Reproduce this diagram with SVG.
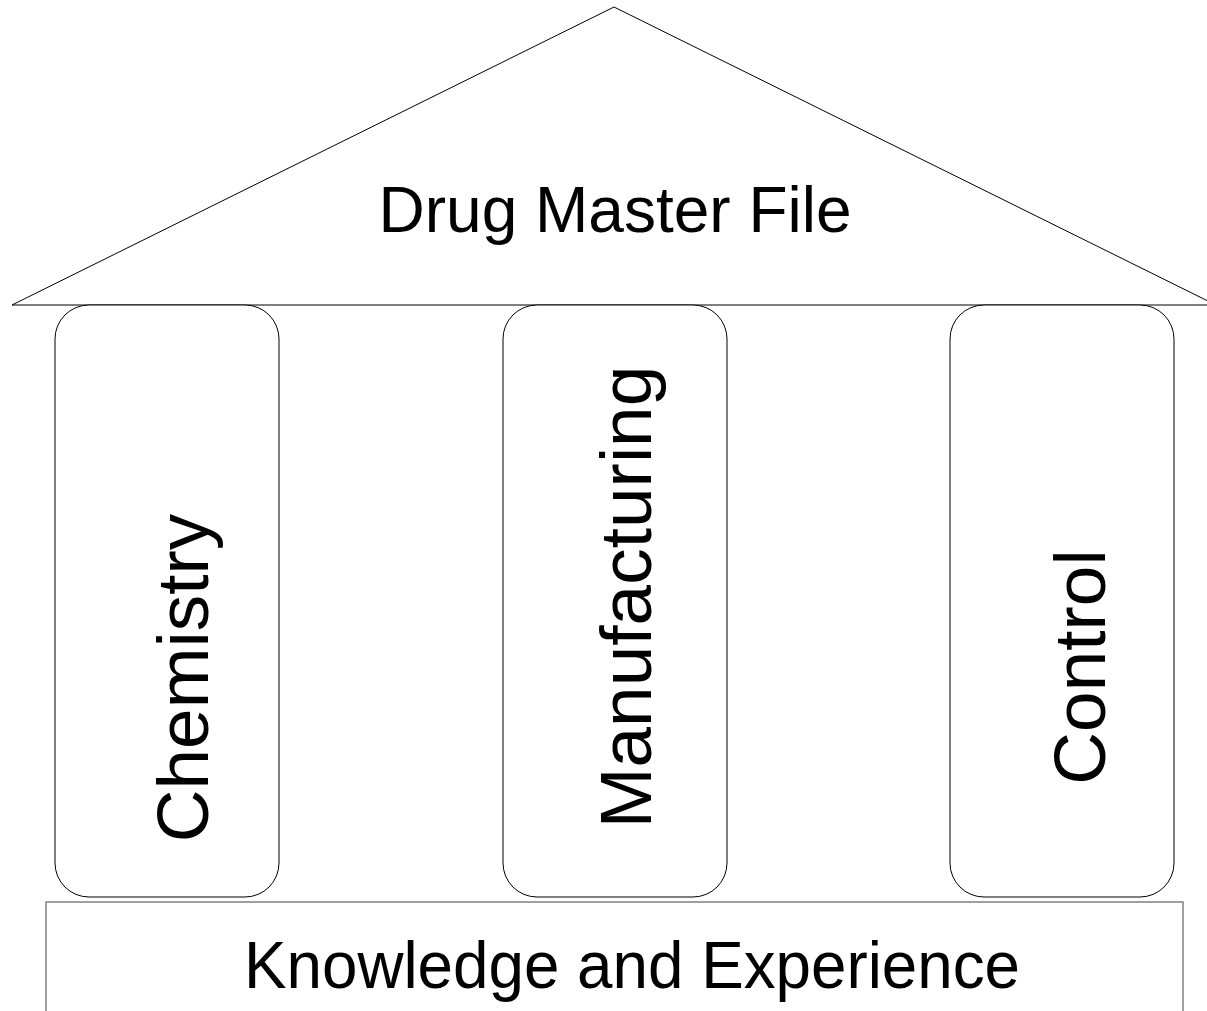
<svg xmlns="http://www.w3.org/2000/svg" width="1207" height="1011" viewBox="0 0 1207 1011">
<style>
.t{font-family:"Liberation Sans",Arial,sans-serif;fill:#000}
.big{font-size:64px}
.v{font-size:73px}
.pillar{fill:#fff;stroke:#000;stroke-width:1}
</style>
<rect width="1207" height="1011" fill="#fff"/>
<g id="roof">
<polygon points="12,305 614,7 1216,305" fill="#fff" stroke="#000" stroke-width="1"/>
<text class="t big" x="615" y="232" text-anchor="middle">Drug Master File</text>
</g>
<g id="chemistry">
<rect class="pillar" x="55" y="305" width="224" height="592" rx="34" ry="34"/>
<text class="t v" transform="translate(208,678) rotate(-90)" text-anchor="middle">Chemistry</text>
</g>
<g id="manufacturing">
<rect class="pillar" x="503" y="305" width="224" height="592" rx="34" ry="34"/>
<text class="t v" transform="translate(651,597) rotate(-90)" text-anchor="middle">Manufacturing</text>
</g>
<g id="control">
<rect class="pillar" x="950" y="305" width="224" height="592" rx="34" ry="34"/>
<text class="t v" transform="translate(1105,667) rotate(-90)" text-anchor="middle">Control</text>
</g>
<g id="base">
<rect x="46" y="902" width="1137" height="130" fill="#fff" stroke="#808080" stroke-width="1.5"/>
<text class="t" font-size="66" x="244" y="988" textLength="776" lengthAdjust="spacingAndGlyphs">Knowledge and Experience</text>
</g>
<g id="connectors"/>
</svg>
